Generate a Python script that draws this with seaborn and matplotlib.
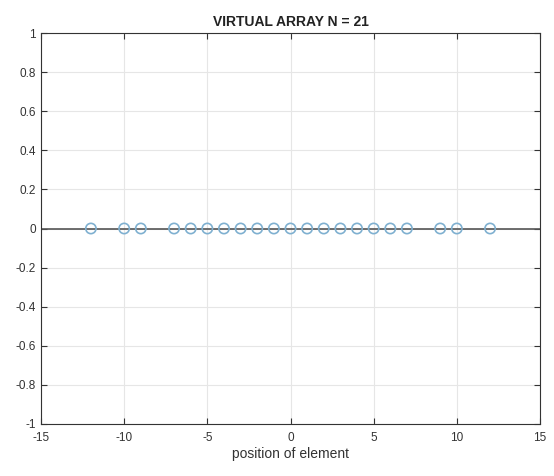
import matplotlib
matplotlib.use("Agg")
import matplotlib.pyplot as plt
import seaborn as sns
import numpy as np
import pandas as pd

positions = [-12, -10, -9, -7, -6, -5, -4, -3, -2, -1, 0, 1, 2, 3, 4, 5, 6, 7, 9, 10, 12]
values = [0] * len(positions)
xticks = [-15, -10, -5, 0, 5, 10, 15]
xtick_labels = ["-15", "-10", "-5", "0", "5", "10", "15"]
yticks = [-1, -0.8, -0.6, -0.4, -0.2, 0, 0.2, 0.4, 0.6, 0.8, 1]
ytick_labels = ["-1", "-0.8", "-0.6", "-0.4", "-0.2", "0", "0.2", "0.4", "0.6", "0.8", "1"]

sns.set_style("white")
plt.rcParams['font.family'] = ['Liberation Sans', 'DejaVu Sans']
plt.rcParams['axes.unicode_minus'] = False

df = pd.DataFrame({"pos": positions, "val": values})

fig = plt.figure(figsize=(5.54, 4.76), dpi=100)
ax = fig.add_axes([41/554, 1 - 424/476, (540-41)/554, (424-33)/476])

ax.axhline(0, color="#555555", linewidth=1.2, zorder=2)
sns.scatterplot(data=df, x="pos", y="val", ax=ax, marker="o", s=55,
                facecolors="none", edgecolor="#7fb0d0", linewidth=1.2, zorder=3)

ax.set_xlim(-15, 15)
ax.set_ylim(-1, 1)
ax.set_xticks(xticks)
ax.set_xticklabels(xtick_labels)
ax.set_yticks(yticks)
ax.set_yticklabels(ytick_labels)
ax.grid(True, color="#e6e6e6", linewidth=0.8)
ax.set_axisbelow(True)
for s in ax.spines.values():
    s.set_color("#333333")
    s.set_linewidth(0.8)
ax.tick_params(direction="in", length=4, color="#333333", labelsize=8.5,
               labelcolor="#333333", top=True, right=True, bottom=True, left=True)
ax.tick_params(axis="x", pad=6)
ax.set_xlabel("position of element", fontsize=10, color="#333333", labelpad=2)
ax.set_ylabel("")
ax.set_title("VIRTUAL ARRAY N = 21", fontsize=10, fontweight="bold", color="#222222", pad=5)

fig.savefig("out.png", dpi=100)
